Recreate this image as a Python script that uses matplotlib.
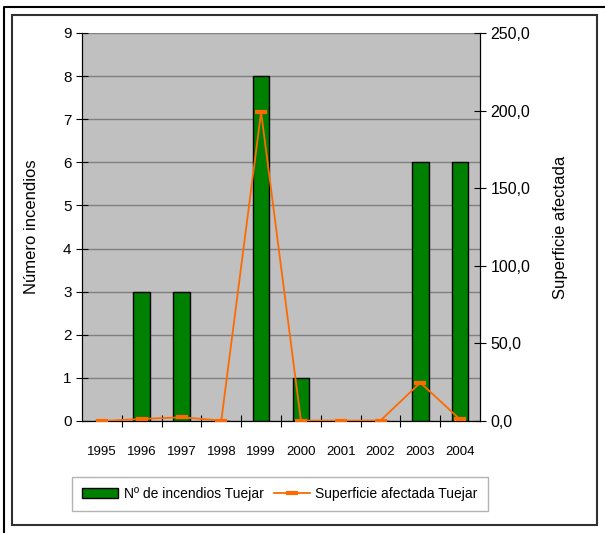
import matplotlib.pyplot as plt
from matplotlib.patches import Rectangle
from matplotlib.lines import Line2D
from matplotlib.ticker import FuncFormatter

plt.rcParams['font.family'] = ['Liberation Sans', 'DejaVu Sans']

years = ['1995', '1996', '1997', '1998', '1999', '2000', '2001', '2002', '2003', '2004']
incendios = [0, 3, 3, 0, 8, 1, 0, 0, 6, 6]
superficie = [0.0, 1.3, 2.4, 0.3, 199.0, 0.3, 0.2, 0.3, 24.7, 1.0]

fig = plt.figure(figsize=(6.05, 5.33), dpi=100)
# outer frame lines (top and left) and inner frame
fig.lines.append(Line2D([4 / 605, 4 / 605, 1], [0, 1 - 7 / 533, 1 - 7 / 533],
                        transform=fig.transFigure, color='black', linewidth=1.5))
fig.patches.append(Rectangle((12 / 605, 8 / 533), 585 / 605, 510 / 533, transform=fig.transFigure,
                             fill=False, edgecolor='#303030', linewidth=1.5))

ax = fig.add_axes([82 / 605, 1 - 421 / 533, 398 / 605, 388 / 533])
ax.set_facecolor('#C0C0C0')

x = list(range(len(years)))
bars = ax.bar(x, incendios, width=0.42, color='#008000', edgecolor='black', linewidth=1,
              label='N\u00ba de incendios Tuejar', zorder=3)
ax.set_xlim(-0.5, len(years) - 0.5)
ax.set_ylim(0, 9)
ax.set_yticks(range(10))
ax.yaxis.grid(True, color='#808080', linewidth=1, zorder=0)
ax.set_xticks([i + 0.5 for i in x[:-1]])
ax.set_xticklabels([])
ax.set_xticks(x, minor=True)
ax.set_xticklabels(years, minor=True)
ax.tick_params(axis='x', which='minor', length=0, pad=18, labelsize=9.5)
ax.tick_params(axis='x', which='major', direction='inout', length=8)
ax.tick_params(axis='y', direction='inout', length=8, labelsize=11)
ax.set_ylabel('N\u00famero incendios', fontsize=12, labelpad=17)
ax.spines['top'].set_visible(False)

ax2 = ax.twinx()
line, = ax2.plot(x, superficie, color='#FF6A00', linewidth=1.3, marker='_', markersize=8,
                 markeredgewidth=3, label='Superficie afectada Tuejar', zorder=4)
ax2.set_ylim(0, 250)
ax2.set_yticks(range(0, 251, 50))
ax2.yaxis.set_major_formatter(FuncFormatter(lambda v, p: f'{v:.1f}'.replace('.', ',')))
ax2.tick_params(axis='y', direction='inout', length=8, labelsize=11.5)
ax2.set_ylabel('Superficie afectada', fontsize=12, labelpad=16)
ax2.spines['top'].set_visible(False)

leg = fig.legend([bars, line], ['N\u00ba de incendios Tuejar', 'Superficie afectada Tuejar'],
                 loc='center', bbox_to_anchor=(280 / 605, 1 - 494 / 533), ncol=2, fontsize=10,
                 frameon=True, fancybox=False, edgecolor='#A0A0A0', handlelength=2.6,
                 columnspacing=0.7, handletextpad=0.4, borderpad=0.75)
leg.get_frame().set_linewidth(1)

fig.savefig('out.png', dpi=100)
